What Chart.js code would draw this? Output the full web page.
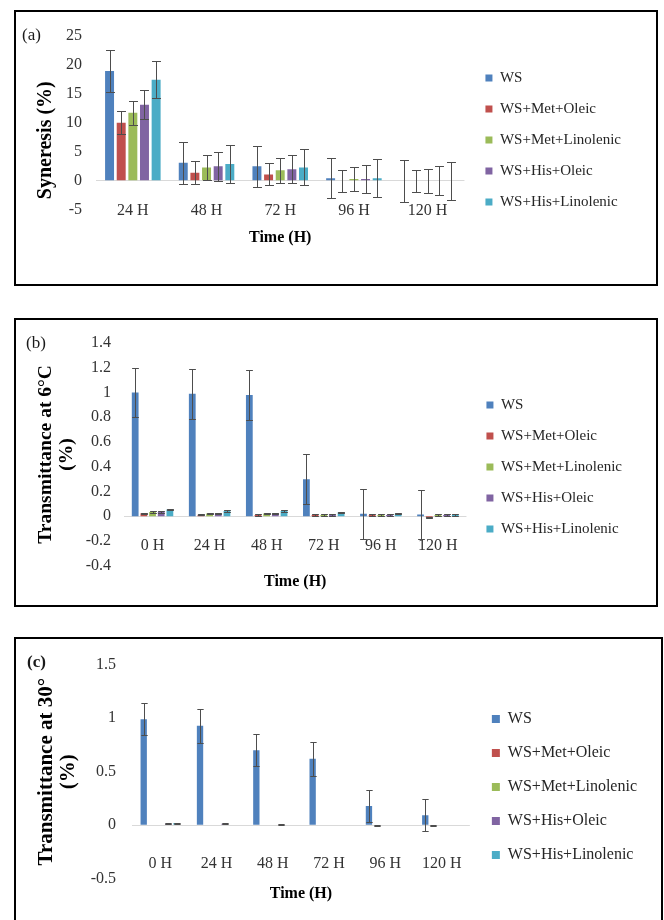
<!DOCTYPE html>
<html>
<head>
<meta charset="utf-8">
<script src="https://cdn.jsdelivr.net/npm/chart.js@4.4.1/dist/chart.umd.min.js"></script>
<style>
  body { margin: 0; background: #fff; width: 664px; height: 920px; position: relative; overflow: hidden; font-family: 'Liberation Serif', 'Times New Roman', serif; }
  .panel { position: absolute; box-sizing: border-box; border: 2px solid #000; background: #fff; }
  .inner { position: relative; }
  .tag { position: absolute; font-size: 17px; line-height: 20px; color: #1a1a1a; z-index: 2; }
</style>
</head>
<body>
<div class="panel" style="left:14px;top:10px;width:644px;height:276px"><div class="inner" style="width:640px;height:272px"><canvas id="chartA"></canvas></div></div>
<div class="panel" style="left:14px;top:318px;width:644px;height:289px"><div class="inner" style="width:640px;height:285px"><canvas id="chartB"></canvas></div></div>
<div class="panel" style="left:14px;top:637px;width:649px;height:290px"><div class="inner" style="width:645px;height:286px"><canvas id="chartC"></canvas></div></div>
<span class="tag" style="left:22px;top:25px">(a)</span>
<span class="tag" style="left:26px;top:333px">(b)</span>
<span class="tag" style="left:27px;top:652px;font-weight:bold">(c)</span>
<script>
// series shared by the three panels
const seriesNames = ['WS', 'WS+Met+Oleic', 'WS+Met+Linolenic', 'WS+His+Oleic', 'WS+His+Linolenic'];
const seriesColors = ['#4F81BD', '#C0504D', '#9BBB59', '#8064A2', '#4BACC6'];

// (a) syneresis (%)
const hoursA = ['24 H', '48 H', '72 H', '96 H', '120 H'];
const synWS        = [18.9, 3.1, 2.5, 0.45, 0];
const synMetOleic  = [10.0, 1.4, 1.1, 0, 0];
const synMetLin    = [11.7, 2.3, 1.8, 0.3, 0];
const synHisOleic  = [13.1, 2.5, 2.0, 0.3, 0];
const synHisLin    = [17.4, 2.9, 2.3, 0.45, 0];
const synErrWS       = [3.55, 3.6, 3.5, 3.5, 3.6];
const synErrMetOleic = [1.95, 2.0, 1.9, 1.9, 1.85];
const synErrMetLin   = [2.1, 2.2, 2.2, 2.1, 2.1];
const synErrHisOleic = [2.45, 2.5, 2.4, 2.4, 2.5];
const synErrHisLin   = [3.2, 3.2, 3.1, 3.3, 3.25];

// (b) transmittance at 6 °C
const hoursBC = ['0 H', '24 H', '48 H', '72 H', '96 H', '120 H'];
const tr6WS        = [1.0, 0.99, 0.98, 0.30, 0.02, 0.015];
const tr6MetOleic  = [0.025, 0.013, 0.01, 0.01, 0.01, -0.01];
const tr6MetLin    = [0.035, 0.022, 0.022, 0.01, 0.01, 0.01];
const tr6HisOleic  = [0.035, 0.022, 0.022, 0.01, 0.01, 0.01];
const tr6HisLin    = [0.055, 0.043, 0.042, 0.032, 0.02, 0.01];
const tr6ErrWS     = [0.2, 0.2, 0.2, 0.2, 0.2, 0.195];
const tr6ErrOthers = [0.005, 0.005, 0.005, 0.005, 0.005, 0.005];

// (c) transmittance at 30 °
const tr30WS        = [0.99, 0.93, 0.70, 0.62, 0.18, 0.094];
const tr30MetOleic  = [0, 0, 0, 0, -0.005, -0.005];
const tr30MetLin    = [0, 0, 0, 0, 0, 0];
const tr30HisOleic  = [0.015, 0.015, 0.005, 0, 0, 0];
const tr30HisLin    = [0.02, 0, 0, 0, 0, 0];
const tr30ErrWS        = [0.15, 0.16, 0.15, 0.16, 0.15, 0.15];
const tr30ErrMetOleic  = [0, 0, 0, 0, 0.003, 0.003];
const tr30ErrMetLin    = [0, 0, 0, 0, 0, 0];
const tr30ErrHisOleic  = [0.004, 0.004, 0.003, 0, 0, 0];
const tr30ErrHisLin    = [0.004, 0, 0, 0, 0, 0];

Chart.defaults.font.family = "'Liberation Serif', 'Times New Roman', serif";

// error bars, drawn with the y scale of the chart
const errorBars = {
  id: 'errorBars',
  afterDatasetsDraw(chart) {
    const ctx = chart.ctx;
    const y = chart.scales.y;
    ctx.save();
    ctx.strokeStyle = '#4d4d4d';
    ctx.lineWidth = 1;
    chart.data.datasets.forEach((ds, i) => {
      chart.getDatasetMeta(i).data.forEach((bar, j) => {
        const e = ds.errors[j];
        if (!e) return;
        const v = ds.data[j];
        const top = Math.round(y.getPixelForValue(v + e)) + 0.5;
        const bot = Math.round(y.getPixelForValue(v - e)) + 0.5;
        const x = Math.round(bar.x) + 0.5;
        const hw = bar.width / 2;
        ctx.beginPath();
        ctx.moveTo(x, top); ctx.lineTo(x, bot);
        ctx.moveTo(x - hw, top); ctx.lineTo(x + hw, top);
        ctx.moveTo(x - hw, bot); ctx.lineTo(x + hw, bot);
        ctx.stroke();
      });
    });
    ctx.restore();
  }
};

function makeDatasets(values, errors) {
  return values.map((v, i) => ({
    label: seriesNames[i],
    data: v,
    errors: errors[i],
    backgroundColor: seriesColors[i],
    borderWidth: 0
  }));
}

// excel-like tick text: 1, 0.8, 0, -0.2
const tickText = v => String(Number(v.toFixed(2)) || 0);

function drawPanel(id, o) {
  return new Chart(document.getElementById(id), {
    type: 'bar',
    data: { labels: o.labels, datasets: makeDatasets(o.values, o.errors) },
    plugins: [errorBars],
    options: {
      responsive: true,
      maintainAspectRatio: false,
      animation: false,
      layout: { padding: { top: o.padTop, bottom: o.padBottom, left: 0, right: o.padRight } },
      datasets: { bar: { categoryPercentage: o.catPct, barPercentage: o.barPct } },
      scales: {
        x: {
          position: { y: 0 },
          grid: { display: false, drawTicks: false },
          border: { display: false },
          ticks: { padding: o.xPad, color: '#333', font: { size: 16 }, maxRotation: 0, autoSkip: false }
        },
        y: {
          min: o.yMin, max: o.yMax,
          ticks: { stepSize: o.yStep, padding: o.yPad, color: '#333', font: { size: 16 }, callback: tickText },
          grid: { drawTicks: false, color: c => Math.abs(c.tick.value) < 1e-9 ? '#d9d9d9' : 'rgba(0,0,0,0)' },
          border: { display: false },
          title: {
            display: true, text: o.yTitle, color: '#000',
            font: { size: o.yTitleSize, weight: 'bold', lineHeight: o.yTitleLH },
            padding: { top: o.yTitlePad, bottom: 0 }
          },
          afterFit: s => { s.width = o.axisW; }
        },
        yR: {
          position: 'right',
          grid: { display: false, drawTicks: false },
          border: { display: false },
          ticks: { display: false },
          afterFit: s => { s.width = o.gapW; }
        }
      },
      plugins: {
        legend: {
          position: 'right',
          maxWidth: o.legendW,
          labels: { boxWidth: o.box, boxHeight: o.box, padding: o.legendPad, color: '#262626', font: { size: o.legendFont } }
        },
        title: {
          display: true, text: 'Time (H)', position: 'bottom', fullSize: false,
          color: '#000', font: { size: 16, weight: 'bold' }, padding: { top: o.xTitlePad, bottom: o.xTitlePadB }
        },
        tooltip: { enabled: false }
      }
    }
  });
}

drawPanel('chartA', {
  labels: hoursA,
  values: [synWS, synMetOleic, synMetLin, synHisOleic, synHisLin],
  errors: [synErrWS, synErrMetOleic, synErrMetLin, synErrHisOleic, synErrHisLin],
  yMin: -5, yMax: 25, yStep: 5,
  yTitle: 'Syneresis (%)' + '\u00A0'.repeat(7), yTitleSize: 20, yTitleLH: 1.2, yTitlePad: 18,
  padTop: 21, padBottom: 37, padRight: 25,
  axisW: 80, yPad: 14, xPad: 20, xTitlePad: 18, xTitlePadB: 0,
  gapW: 5, legendW: 200, box: 7, legendPad: 16, legendFont: 15,
  catPct: 0.79, barPct: 0.77
});

drawPanel('chartB', {
  labels: hoursBC,
  values: [tr6WS, tr6MetOleic, tr6MetLin, tr6HisOleic, tr6HisLin],
  errors: [tr6ErrWS, tr6ErrOthers, tr6ErrOthers, tr6ErrOthers, tr6ErrOthers],
  yMin: -0.4, yMax: 1.4, yStep: 0.2,
  yTitle: ['Transmittance at 6\u00B0C', '(%)'], yTitleSize: 19.5, yTitleLH: 1.1, yTitlePad: 19,
  padTop: 23, padBottom: 14, padRight: 24,
  axisW: 108, yPad: 13, xPad: 20, xTitlePad: 6, xTitlePadB: 0,
  gapW: 4, legendW: 200, box: 7, legendPad: 16, legendFont: 15,
  catPct: 0.76, barPct: 0.78
});

drawPanel('chartC', {
  labels: hoursBC,
  values: [tr30WS, tr30MetOleic, tr30MetLin, tr30HisOleic, tr30HisLin],
  errors: [tr30ErrWS, tr30ErrMetOleic, tr30ErrMetLin, tr30ErrHisOleic, tr30ErrHisLin],
  yMin: -0.5, yMax: 1.5, yStep: 0.5,
  yTitle: ['Transmittance at 30\u00B0', '(%)'], yTitleSize: 21, yTitleLH: 1.05, yTitlePad: 20,
  padTop: 24, padBottom: 14, padRight: 14,
  axisW: 116, yPad: 16, xPad: 29, xTitlePad: 5, xTitlePadB: 8,
  gapW: 4, legendW: 210, box: 8, legendPad: 18, legendFont: 16,
  catPct: 0.73, barPct: 0.77
});
</script>
</body>
</html>
